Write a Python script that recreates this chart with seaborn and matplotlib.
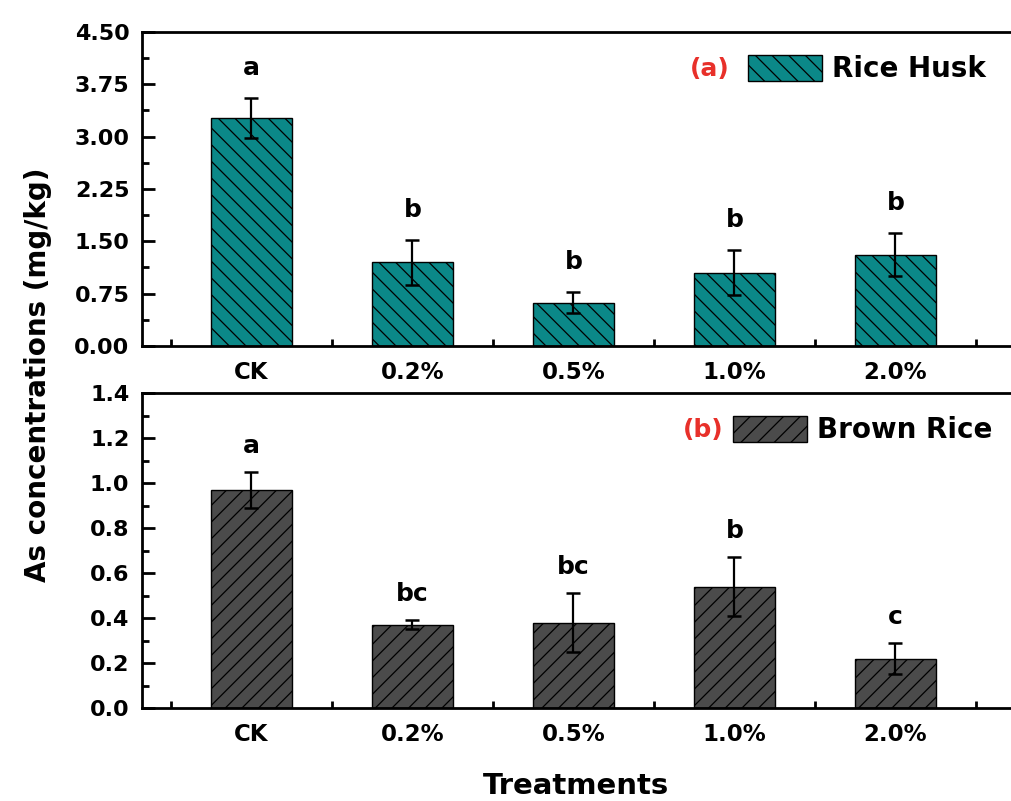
import matplotlib
matplotlib.use("Agg")
import matplotlib.pyplot as plt
import seaborn as sns
import numpy as np
from matplotlib.patches import Patch
from matplotlib.ticker import MultipleLocator, FormatStrFormatter

sns.set_theme(style="white")
plt.rcParams['font.family'] = ['DejaVu Sans']
plt.rcParams['font.weight'] = 'bold'
plt.rcParams['hatch.linewidth'] = 0.9
plt.rcParams['text.color'] = 'black'
plt.rcParams['axes.labelcolor'] = 'black'
plt.rcParams['xtick.color'] = 'black'
plt.rcParams['ytick.color'] = 'black'

treatments = ["CK", "0.2%", "0.5%", "1.0%", "2.0%"]

husk_mean = [3.27, 1.20, 0.62, 1.05, 1.31]
husk_err = [0.29, 0.32, 0.15, 0.32, 0.31]
husk_letters = ["a", "b", "b", "b", "b"]

brown_mean = [0.97, 0.37, 0.38, 0.54, 0.22]
brown_err = [0.08, 0.02, 0.13, 0.13, 0.07]
brown_letters = ["a", "bc", "bc", "b", "c"]

W, H = 1011, 801
fig = plt.figure(figsize=(W / 100, H / 100), dpi=100)

xl = (-0.68, 4.8)
ax_w = (xl[1] - xl[0]) * 161 / W
ax1 = fig.add_axes([142 / W, (H - 346) / H, ax_w, 314 / H])
ax2 = fig.add_axes([142 / W, (H - 708) / H, ax_w, 315 / H])

panels = [
    (ax1, husk_mean, husk_err, husk_letters, "#0b8888", "\\\\", 4.5, 0.75, 0.375, "%.2f",
     "(a)", "Rice Husk", 69, 748, 690, 13),
    (ax2, brown_mean, brown_err, brown_letters, "#4b4b4b", "//", 1.4, 0.2, 0.1, "%.1f",
     "(b)", "Brown Rice", 430, 733, 683, 10),
]

for (ax, mean, err, letters, col, hatch, ymax, maj, mnr, fmt,
     tag, label, ly, lx, tx, off) in panels:
    sns.barplot(x=treatments, y=mean, ax=ax, color=col, edgecolor="black",
                linewidth=1.0, width=0.5, errorbar=None, saturation=1)
    for p in ax.patches:
        p.set_hatch(hatch)
    x = np.arange(len(treatments))
    ax.errorbar(x, mean, yerr=err, fmt="none", ecolor="black", elinewidth=1.6,
                capsize=5, capthick=1.8)
    for xi, m, e, t in zip(x, mean, err, letters):
        ax.annotate(t, (xi, m + e), xytext=(0, off), textcoords="offset points",
                    ha="center", va="bottom", fontsize=18, fontweight="bold",
                    color="black")
    ax.set_xlim(*xl)
    ax.set_ylim(0, ymax)
    ax.yaxis.set_major_locator(MultipleLocator(maj))
    ax.yaxis.set_minor_locator(MultipleLocator(mnr))
    ax.yaxis.set_major_formatter(FormatStrFormatter(fmt))
    ax.set_xticks(x)
    ax.set_xticks(np.arange(-0.5, 4.6, 1.0), minor=True)
    ax.tick_params(axis="both", which="major", direction="in", length=9, width=2,
                   colors="black")
    ax.tick_params(axis="both", which="minor", direction="in", length=5, width=2,
                   colors="black")
    ax.tick_params(axis="x", which="major", labelsize=16.5, pad=11)
    ax.tick_params(axis="y", which="major", labelsize=16, pad=9)
    ax.tick_params(axis="x", which="both", bottom=True, top=False)
    ax.tick_params(axis="y", which="both", left=True, right=False)
    for lab in ax.get_xticklabels() + ax.get_yticklabels():
        lab.set_fontweight("bold")
        lab.set_color("black")
    for s in ax.spines.values():
        s.set_linewidth(2)
        s.set_color("black")
    ax.set_xlabel("")
    ax.set_ylabel("")
    handle = Patch(facecolor=col, edgecolor="black", hatch=hatch, linewidth=1.0)
    leg = ax.legend([handle], [label], loc="center left",
                    bbox_to_anchor=(lx / W, (H - ly) / H), bbox_transform=fig.transFigure,
                    frameon=False, borderpad=0, borderaxespad=0, handlelength=2.65,
                    handleheight=1.1, handletextpad=0.38,
                    prop={"size": 20, "weight": "bold"})
    for t in leg.get_texts():
        t.set_color("black")
    fig.text(tx / W, (H - ly) / H, tag, color="#e8302a", fontsize=18,
             fontweight="bold", ha="left", va="center")

fig.text(38 / W, (H - 375) / H, "As concentrations (mg/kg)", rotation=90,
         ha="center", va="center", fontsize=20, fontweight="bold", color="black")
fig.text(576 / W, (H - 786) / H, "Treatments", ha="center", va="center",
         fontsize=21, fontweight="bold", color="black")

fig.savefig("out.png", dpi=100)
